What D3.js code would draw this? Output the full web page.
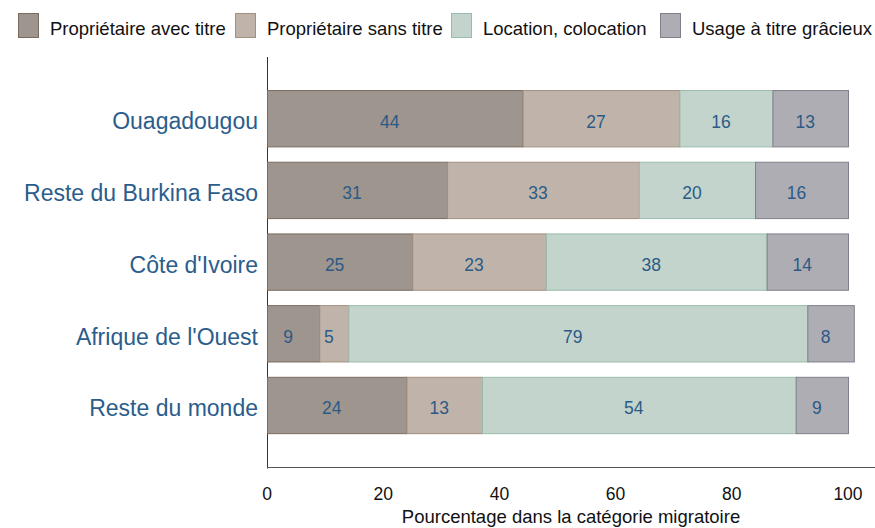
<!DOCTYPE html>
<html>
<head>
<meta charset="utf-8">
<script src="https://cdn.jsdelivr.net/npm/d3@7"></script>
<style>
  html, body { margin: 0; padding: 0; background: #fff; }
  svg { display: block; font-family: "Liberation Sans", Arial, Helvetica, sans-serif; }
</style>
</head>
<body>
<svg id="chart" width="875" height="528"></svg>
<script>
// Statut d'occupation du logement selon la catégorie migratoire (%)
const categories = ["Ouagadougou", "Reste du Burkina Faso", "Côte d'Ivoire", "Afrique de l'Ouest", "Reste du monde"];
const seriesNames = ["Propriétaire avec titre", "Propriétaire sans titre", "Location, colocation", "Usage à titre grâcieux"];
const avecTitre   = [44, 31, 25, 9, 24];
const sansTitre   = [27, 33, 23, 5, 13];
const location_   = [16, 20, 38, 79, 54];
const usageGracieux = [13, 16, 14, 8, 9];
const xTicks = [0, 20, 40, 60, 80, 100];

const fills   = ["#9e958e", "#c0b4aa", "#c2d4cb", "#aeadb4"];
const strokes = ["#7b6b5f", "#a3907f", "#9bbcad", "#80808d"];

const seriesValues = [avecTitre, sansTitre, location_, usageGracieux];
const rows = categories.map((c, i) => {
  const r = { cat: c };
  seriesNames.forEach((s, k) => r[s] = seriesValues[k][i]);
  return r;
});
const stacked = d3.stack().keys(seriesNames)(rows);

const svg = d3.select("#chart");
const x = d3.scaleLinear().domain([0, 100]).range([267, 848]);
const y = d3.scaleBand().domain(categories).range([75.7, 448.5]).paddingInner(0.2).paddingOuter(0.2);

// Axis lines
svg.append("line").attr("x1", 267.5).attr("x2", 267.5).attr("y1", 57).attr("y2", 468.5)
  .attr("stroke", "#333").attr("stroke-width", 1);
svg.append("line").attr("x1", 267).attr("x2", 875).attr("y1", 467.5).attr("y2", 467.5)
  .attr("stroke", "#555").attr("stroke-width", 1);

// Bars
const layers = svg.append("g").selectAll("g").data(stacked).join("g")
  .attr("fill", (d, i) => fills[i]).attr("stroke", (d, i) => strokes[i]);
layers.selectAll("rect").data(d => d).join("rect")
  .attr("x", d => x(d[0]) + 0.5)
  .attr("y", (d, i) => y(categories[i]) + 0.5)
  .attr("width", d => x(d[1]) - x(d[0]))
  .attr("height", y.bandwidth() - 1)
  .attr("stroke-width", 1);

// Value labels
stacked.forEach((layer, k) => {
  svg.append("g").selectAll("text").data(layer).join("text")
    .attr("x", d => (x(d[0]) + x(d[1])) / 2 - 5)
    .attr("text-anchor", "middle")
    .attr("y", (d, i) => y(categories[i]) + y.bandwidth() / 2 + 2.5)
    .attr("dy", "0.36em")
    .attr("fill", "#2c5a87")
    .attr("font-size", 17.5)
    .text(d => d[1] - d[0]);
});

// Category labels
svg.append("g").selectAll("text").data(categories).join("text")
  .attr("x", 258)
  .attr("y", d => y(d) + y.bandwidth() / 2 + 2.5)
  .attr("dy", "0.36em")
  .attr("text-anchor", "end")
  .attr("fill", "#2b5d8c")
  .attr("font-size", 23)
  .text(d => d);

// X tick labels
svg.append("g").selectAll("text").data(xTicks).join("text")
  .attr("x", d => x(d))
  .attr("y", 494)
  .attr("dy", "0.36em")
  .attr("text-anchor", "middle")
  .attr("fill", "#111")
  .attr("font-size", 17.5)
  .text(d => d);

svg.append("text")
  .attr("x", 571).attr("y", 523)
  .attr("text-anchor", "middle").attr("fill", "#111").attr("font-size", 18.5)
  .text("Pourcentage dans la catégorie migratoire");

// Legend
const legendX = [18, 235, 451, 660];
const lg = svg.append("g").selectAll("g").data(seriesNames).join("g")
  .attr("transform", (d, i) => `translate(${legendX[i]},13)`);
lg.append("rect").attr("x", 0.5).attr("y", 0.5).attr("width", 20).attr("height", 24)
  .attr("fill", (d, i) => fills[i]).attr("stroke", (d, i) => strokes[i]);
lg.append("text").attr("x", 32).attr("y", 22)
  .attr("fill", "#111").attr("font-size", 18.5).text(d => d);
</script>
</body>
</html>
